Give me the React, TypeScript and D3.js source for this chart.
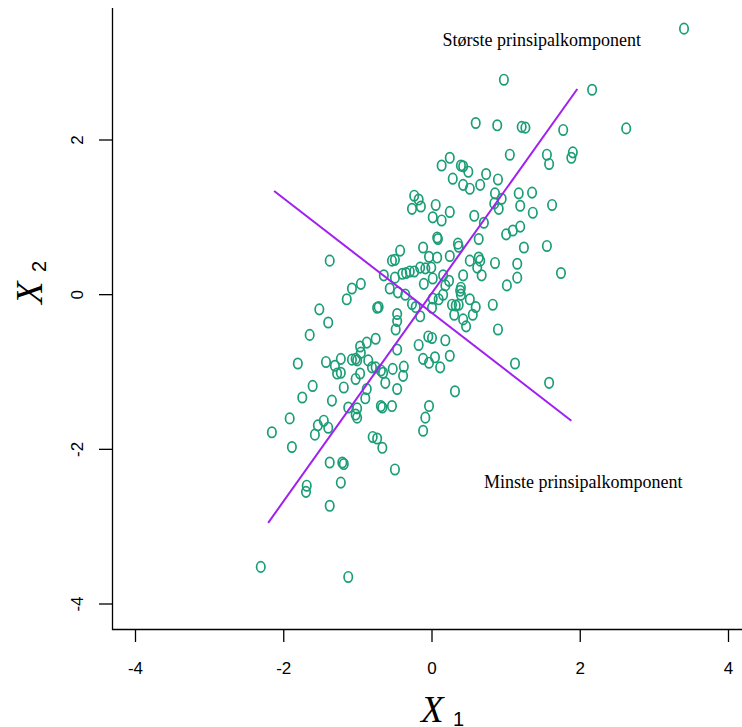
import React from "react";
import * as d3 from "d3";

// Simulated bivariate sample (X1, X2)
const sampleX1: number[] = [
  3.40, 0.97, 2.16, 0.59, 0.88, 1.21, 1.26, 1.77, 2.62, 1.55,
  1.58, 1.90, 1.88, 1.05, 0.24, 0.13, 0.39, 0.42, 0.49, 0.28,
  0.42, 0.51, 0.65, 0.73, 0.89, -0.24, -0.18, -0.27, -0.15, 0.05,
  0.01, 0.13, 0.24, 0.57, 0.70, 0.85, 0.94, 0.84, 0.90, 1.17,
  1.35, 1.19, 1.36, 1.62, 0.07, 0.08, 0.35, 0.36, 0.63, 1.00,
  1.09, 1.19, 1.24, 1.55, 1.74, -0.43, -0.12, -0.04, 0.07, 0.24,
  0.51, 0.63, 0.65, 0.61, 0.85, 1.15, 0.67, 0.42, 1.15, 1.01,
  -0.40, -0.35, -0.30, -0.24, -0.16, -0.09, -0.01, 0.01, 0.15, 0.23,
  0.18, -0.11, 0.39, 0.39, 0.51, 0.15, -0.36,
  -1.38, -0.54, -0.50, -0.65, -0.50, -1.08, -0.96, -1.15, -0.57, -0.46,
  -1.52, -1.40, -1.65, -0.74, -0.72, -0.47, -0.47, -0.49, -1.81, -1.43,
  -1.23, -1.31, -1.28, -1.23, -1.08, -1.03, -1.01, -0.96, -0.97, -0.88,
  -0.76, -0.86, -0.81, -0.76, -0.69, -0.66, -0.53, -0.38, -0.39, -0.47,
  -1.03, -0.97, -0.63, -0.47, -1.61, -1.19, -1.75, -1.35, -0.88, -0.90,
  -1.13, -1.01, -1.03, -1.01, -0.69, -0.67, -0.54, -1.92, -2.16, -1.46,
  -1.54, -1.40, -1.58, -0.80, -0.74, -1.89, -0.67, -0.27, -0.22, -0.16,
  0.01, 0.09, 0.00, 0.27, 0.32, 0.36, 0.38, 0.59, 0.30, 0.42,
  0.46, 0.55, 0.82, 0.89, -0.05, 0.00, -0.18, 0.18, -0.12, -0.04,
  0.04, 0.11, 0.24, 0.31, 1.12, 1.58, -0.04, -0.09, -0.12, -1.38,
  -1.21, -1.19, -0.50, -1.23, -1.69, -1.70, -1.38, -2.31, -1.13,
];

const sampleX2: number[] = [
  3.44, 2.78, 2.65, 2.22, 2.19, 2.17, 2.16, 2.13, 2.15, 1.81,
  1.69, 1.84, 1.77, 1.81, 1.77, 1.67, 1.67, 1.66, 1.59, 1.50,
  1.42, 1.37, 1.42, 1.56, 1.49, 1.28, 1.23, 1.11, 1.14, 1.16,
  1.00, 0.96, 1.07, 1.02, 0.93, 1.31, 1.24, 1.18, 1.11, 1.31,
  1.32, 1.15, 1.06, 1.16, 0.74, 0.72, 0.66, 0.62, 0.72, 0.78,
  0.83, 0.88, 0.61, 0.63, 0.28, 0.57, 0.61, 0.49, 0.48, 0.50,
  0.44, 0.48, 0.44, 0.35, 0.41, 0.40, 0.25, 0.25, 0.22, 0.12,
  0.27, 0.28, 0.30, 0.30, 0.35, 0.34, 0.35, 0.21, 0.25, 0.18,
  0.12, 0.14, 0.09, 0.00, -0.06, 0.00, 0.00,
  0.44, 0.44, 0.45, 0.25, 0.22, 0.08, 0.14, -0.06, 0.08, 0.03,
  -0.19, -0.36, -0.52, -0.17, -0.16, -0.25, -0.34, -0.45, -0.89, -0.87,
  -0.83, -0.92, -1.02, -1.01, -0.84, -0.83, -0.85, -0.75, -0.67, -0.62,
  -0.57, -0.85, -0.94, -0.94, -0.98, -1.01, -0.96, -0.93, -1.05, -0.71,
  -1.09, -1.02, -1.14, -1.22, -1.18, -1.20, -1.33, -1.37, -1.22, -1.34,
  -1.46, -1.47, -1.55, -1.59, -1.44, -1.46, -1.44, -1.60, -1.78, -1.63,
  -1.69, -1.72, -1.81, -1.84, -1.86, -1.97, -1.98, -0.12, -0.16, -0.28,
  -0.05, -0.06, -0.17, -0.13, -0.14, -0.13, 0.05, -0.16, -0.26, -0.32,
  -0.41, -0.26, -0.13, -0.45, -0.54, -0.56, -0.65, -0.59, -0.83, -0.88,
  -0.81, -0.94, -0.79, -1.25, -0.89, -1.14, -1.44, -1.59, -1.76, -2.17,
  -2.17, -2.19, -2.26, -2.43, -2.47, -2.55, -2.73, -3.52, -3.65,
];

// Principal component directions, drawn as segments [x1, x2]
const largestComponent: [number, number][] = [[-2.21, -2.95], [1.96, 2.66]];
const smallestComponent: [number, number][] = [[-2.13, 1.34], [1.88, -1.63]];

const xTicks: number[] = [-4, -2, 0, 2, 4];
const yTicks: number[] = [-4, -2, 0, 2];

const largestLabel = "Største prinsipalkomponent";
const smallestLabel = "Minste prinsipalkomponent";
const largestLabelPos: [number, number] = [1.48, 3.21];
const smallestLabelPos: [number, number] = [2.04, -2.5];

const POINT_COLOR = "#1b9e77";
const LINE_COLOR = "#a020f0";

export default function App() {
  const width = 742;
  const height = 727;
  const x = d3.scaleLinear().domain([-4, 4]).range([135.5, 728.5]);
  const y = d3.scaleLinear().domain([-4, 2]).range([604, 140]);
  const line = d3
    .line<[number, number]>()
    .x((d) => x(d[0]))
    .y((d) => y(d[1]));

  const axisLeft = 112.5;
  const axisBottom = 629.5;
  const sans = "'Liberation Sans', Arial, sans-serif";
  const serif = "'Liberation Serif', 'Times New Roman', serif";

  return (
    <svg
      width={width}
      height={height}
      style={{ position: "absolute", left: 0, top: 0, background: "#fff" }}
    >
      <rect width={width} height={height} fill="#fff" />
      {/* L-shaped frame */}
      <path
        d={`M${axisLeft},8 L${axisLeft},${axisBottom} L${width},${axisBottom}`}
        fill="none"
        stroke="#000"
        strokeWidth={1.3}
      />
      {/* x axis */}
      {xTicks.map((t) => (
        <g key={`xt${t}`}>
          <line x1={x(t)} x2={x(t)} y1={axisBottom} y2={642} stroke="#000" strokeWidth={1.3} />
          <text x={x(t)} y={674} textAnchor="middle" fontFamily={sans} fontSize={17}>
            {t}
          </text>
        </g>
      ))}
      {/* y axis */}
      {yTicks.map((t) => (
        <g key={`yt${t}`}>
          <line x1={99} x2={axisLeft} y1={y(t)} y2={y(t)} stroke="#000" strokeWidth={1.3} />
          <text
            transform={`translate(83,${y(t)}) rotate(-90)`}
            textAnchor="middle"
            fontFamily={sans}
            fontSize={17}
          >
            {t}
          </text>
        </g>
      ))}
      {/* axis titles */}
      <text x={421} y={722} fontFamily={serif} fontStyle="italic" fontSize={37}>
        X
      </text>
      <text x={453} y={726} fontFamily={sans} fontSize={20}>
        1
      </text>
      <g transform="translate(42,304) rotate(-90)">
        <text x={0} y={0} fontFamily={serif} fontStyle="italic" fontSize={37}>
          X
        </text>
        <text x={32} y={4} fontFamily={sans} fontSize={20}>
          2
        </text>
      </g>
      {/* sample points */}
      {sampleX1.map((v, i) => (
        <ellipse
          key={i}
          cx={x(v)}
          cy={y(sampleX2[i])}
          rx={4.2}
          ry={5.2}
          fill="none"
          stroke={POINT_COLOR}
          strokeWidth={1.7}
        />
      ))}
      {/* principal component segments */}
      <path d={line(largestComponent) || ""} fill="none" stroke={LINE_COLOR} strokeWidth={2} />
      <path d={line(smallestComponent) || ""} fill="none" stroke={LINE_COLOR} strokeWidth={2} />
      <text
        x={x(largestLabelPos[0])}
        y={y(largestLabelPos[1])}
        textAnchor="middle"
        fontFamily={serif}
        fontSize={18}
      >
        {largestLabel}
      </text>
      <text
        x={x(smallestLabelPos[0])}
        y={y(smallestLabelPos[1])}
        textAnchor="middle"
        fontFamily={serif}
        fontSize={18}
      >
        {smallestLabel}
      </text>
    </svg>
  );
}
